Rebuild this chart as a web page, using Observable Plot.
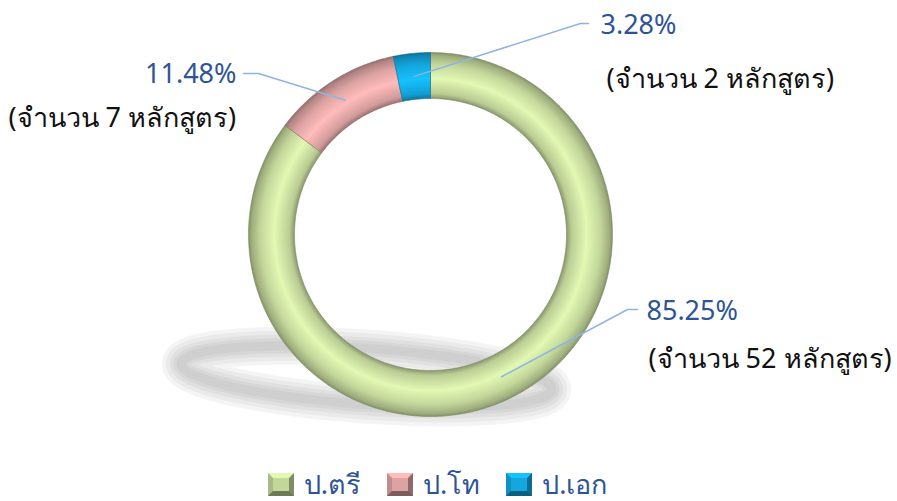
<!DOCTYPE html>
<html>
<head>
<meta charset="utf-8">
<script src="https://cdn.jsdelivr.net/npm/d3@7"></script>
<script src="https://cdn.jsdelivr.net/npm/@observablehq/plot@0.6"></script>
<style>
  html, body { margin: 0; padding: 0; background: #fff; }
  body { width: 897px; height: 501px; overflow: hidden; font-family: "Noto Sans", "DejaVu Sans", sans-serif; }
  #legend { display: flex; justify-content: center; align-items: center; height: 41px; padding-top: 12px; margin-left: -22px; }
  .item { display: flex; align-items: center; margin: 0 13px; color: #2F5496; font-size: 27px; }
  .sw { width: 26px; height: 23px; margin-right: 10px; box-sizing: border-box; }
</style>
</head>
<body>
<svg width="1" height="1" style="position:absolute;left:-10px;top:-10px">
  <defs id="fx"></defs>
</svg>
<div id="chart"></div>
<div id="legend"></div>
<script>
// ---- data ----
const categories = ["ป.ตรี", "ป.โท", "ป.เอก"];
const counts = [52, 7, 2];
const percentLabels = ["85.25%", "11.48%", "3.28%"];
const countLabels = ["(จำนวน 52 หลักสูตร)", "(จำนวน 7 หลักสูตร)", "(จำนวน 2 หลักสูตร)"];

// ---- styles / layout (not data) ----
const colors = ["#C4D79B", "#DDA3A2", "#13A7DF"];
const W = 897, H = 452;
const cx = 430, cy = 234, rOuter = 182, rInner = 136;
const labelLayout = [
  {elbow: [627, 309], end: [637, 309], pct: [646, 319, "start"], cnt: [648, 367]},
  {elbow: [258, 73], end: [243, 73], pct: [236, 82, "end"], cnt: [8, 126]},
  {elbow: [580, 23], end: [588, 23], pct: [600, 33, "start"], cnt: [606, 87]}
];
const shadowGeom = {cx: 366, cy: 376, rx: 186, ry: 28, tilt: 4 * Math.PI / 180};
const shadowWidths = [38, 30, 22, 15, 9];

const arcs = d3.pie().sort(null).value(d => d)(counts);
const pt = (r, a) => [cx + r * Math.sin(a), cy - r * Math.cos(a)];

const slices = arcs.map((a, i) => {
  const pts = [];
  const n = Math.max(4, Math.ceil((a.endAngle - a.startAngle) / 0.01));
  for (let k = 0; k <= n; k++) {
    const t = a.startAngle + (a.endAngle - a.startAngle) * k / n;
    const [x, y] = pt(rOuter, t); pts.push({x, y});
  }
  for (let k = n; k >= 0; k--) {
    const t = a.startAngle + (a.endAngle - a.startAngle) * k / n;
    const [x, y] = pt(rInner, t); pts.push({x, y});
  }
  pts.push(pts[0]);
  return pts;
});

const leaderPts = [];
arcs.forEach((a, i) => {
  const mid = (a.startAngle + a.endAngle) / 2;
  const [x0, y0] = pt((rOuter + rInner) / 2, mid);
  const L = labelLayout[i];
  leaderPts.push({x: x0, y: y0, s: i}, {x: L.elbow[0], y: L.elbow[1], s: i}, {x: L.end[0], y: L.end[1], s: i});
});

const pctText = percentLabels.map((t, i) => ({t, x: labelLayout[i].pct[0], y: labelLayout[i].pct[1], a: labelLayout[i].pct[2]}));
const cntText = countLabels.map((t, i) => ({t, x: labelLayout[i].cnt[0], y: labelLayout[i].cnt[1]}));

// soft shadow under the ring (stacked translucent strokes on a tilted ellipse)
const S = shadowGeom;
const shadowPts = d3.range(0, 361, 3).map(d => {
  const a = d * Math.PI / 180;
  const ex = S.rx * Math.cos(a), ey = S.ry * Math.sin(a);
  return {x: S.cx + ex * Math.cos(S.tilt) - ey * Math.sin(S.tilt), y: S.cy + ex * Math.sin(S.tilt) + ey * Math.cos(S.tilt)};
});

// gradients for tube shading
const fx = d3.select("#fx");
const gradIds = ["gG", "gP", "gB"];
colors.forEach((c, i) => {
  const g = fx.append("radialGradient").attr("id", gradIds[i]).attr("gradientUnits", "userSpaceOnUse")
    .attr("cx", cx).attr("cy", cy).attr("r", rOuter);
  const base = d3.color(c);
  const stops = [
    [rInner / rOuter, base.darker(1.0)],
    [(rInner + 5) / rOuter, base.darker(0.15)],
    [(rInner + 20) / rOuter, base.brighter(0.4)],
    [(rOuter - 12) / rOuter, base],
    [(rOuter - 3) / rOuter, base.darker(0.6)],
    [1, base.darker(1.1)]
  ];
  stops.forEach(([o, col]) => g.append("stop").attr("offset", o).attr("stop-color", col.formatHex()));
});

const font = "Noto Sans, DejaVu Sans, sans-serif";
const plot = Plot.plot({
  width: W, height: H,
  margin: 0,
  x: {domain: [0, W], range: [0, W], axis: null},
  y: {domain: [0, H], range: [0, H], axis: null},
  marks: [
    ...shadowWidths.map(w => Plot.line(shadowPts, {x: "x", y: "y", stroke: "#7a7a7a", strokeWidth: w, strokeOpacity: 0.085, strokeLinejoin: "round"})),
    ...slices.map((pts, i) => Plot.line(pts, {x: "x", y: "y", fill: `url(#${gradIds[i]})`, stroke: d3.color(colors[i]).darker(1.3).formatHex(), strokeWidth: 0.8, strokeOpacity: 0.7})),
    Plot.line(leaderPts, {x: "x", y: "y", z: "s", stroke: "#8EB4E3", strokeWidth: 1.5}),
    Plot.text(pctText.filter(d => d.a === "start"), {x: "x", y: "y", text: "t", textAnchor: "start", lineAnchor: "bottom", fontSize: 27, fill: "#2F5496", fontFamily: font}),
    Plot.text(pctText.filter(d => d.a === "end"), {x: "x", y: "y", text: "t", textAnchor: "end", lineAnchor: "bottom", fontSize: 27, fill: "#2F5496", fontFamily: font}),
    Plot.text(cntText, {x: "x", y: "y", text: "t", textAnchor: "start", lineAnchor: "bottom", fontSize: 27, fill: "#111", fontFamily: font})
  ]
});
document.getElementById("chart").appendChild(plot);

// legend
const leg = d3.select("#legend");
categories.forEach((c, i) => {
  const it = leg.append("div").attr("class", "item");
  const base = d3.color(colors[i]);
  it.append("div").attr("class", "sw")
    .style("background", colors[i])
    .style("border-style", "solid").style("border-width", "5px")
    .style("border-color", `${base.brighter(0.4).formatHex()} ${base.darker(1.2).formatHex()} ${base.darker(1.6).formatHex()} ${base.darker(0.4).formatHex()}`);
  it.append("span").text(c);
});
</script>
</body>
</html>
